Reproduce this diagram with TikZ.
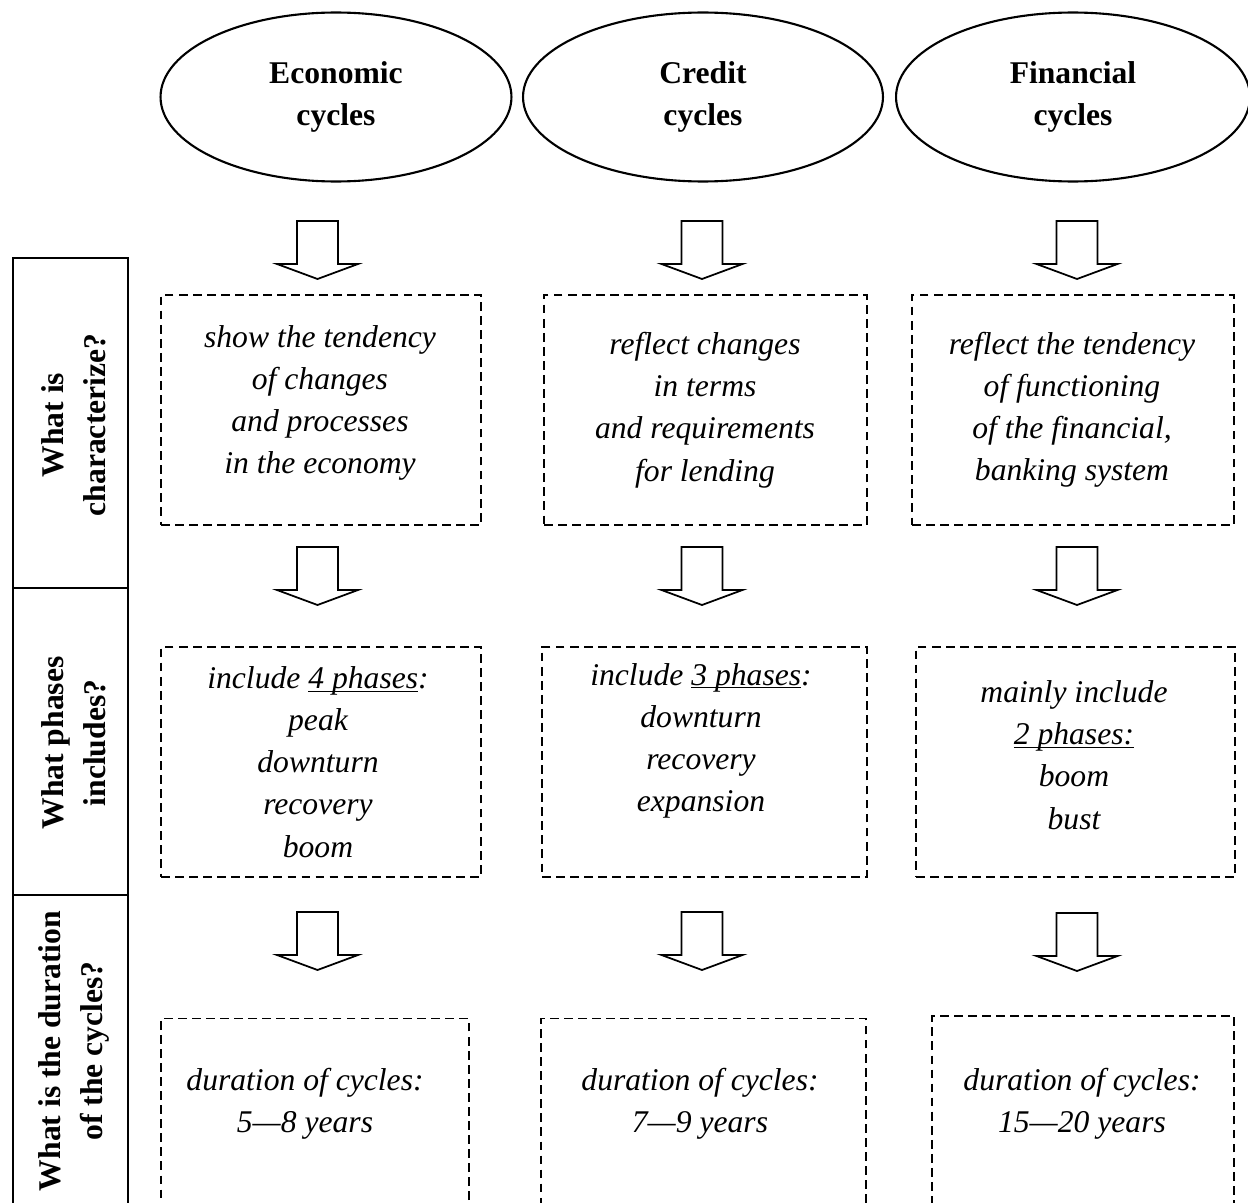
\documentclass[tikz,border=0pt]{standalone}
\usepackage{fontspec}
\setmainfont{Liberation Serif}
\usetikzlibrary{shapes.geometric}

\begin{document}
\begin{tikzpicture}[x=0.02cm,y=-0.02cm,
  cyc/.style={ellipse,draw,line width=1.2pt,minimum height=3.38cm,inner sep=0pt,font=\bfseries\fontsize{18}{24}\selectfont,align=center},
  dbox/.style={draw,dash pattern=on 5pt off 3pt,line width=1pt,minimum height=4.6cm,inner sep=0pt},
  txt/.style={font=\itshape\fontsize{18}{24}\selectfont,align=center},
  qtxt/.style={font=\bfseries\fontsize{18}{24}\selectfont,align=center,rotate=90},
  downarr/.pic={\draw[line width=1pt] (-20.5,0) -- (-20.5,43) -- (-40.5,43) -- (0,58) -- (40.5,43) -- (20.5,43) -- (20.5,0) -- cycle;}]
\useasboundingbox (0,0) rectangle (1248,1203);

% left column with the questions
\draw[line width=1pt] (13,1215) -- (13,258) -- (128,258) -- (128,1215);
\draw[line width=1pt] (13,588) -- (128,588);
\draw[line width=1pt] (13,895) -- (128,895);
\node[qtxt] (q1) at (74,425) {What is\\characterize?};
\node[qtxt] (q2) at (74,743) {What phases\\includes?};
\node[qtxt] (q3) at (74,1051) {What is the duration\\of the cycles?};

% kinds of cycles
\node[cyc,minimum width=7.02cm] (eco) at (336,97) {Economic\\cycles};
\node[cyc,minimum width=7.2cm] (cre) at (703,97) {Credit\\cycles};
\node[cyc,minimum width=7.08cm] (fin) at (1073,97) {Financial\\cycles};

% block arrows
\pic (a11) at (317.5,221) {downarr};
\pic (a12) at (702,221) {downarr};
\pic (a13) at (1077,221) {downarr};
\pic (a21) at (317.5,547) {downarr};
\pic (a22) at (702,547) {downarr};
\pic (a23) at (1077,547) {downarr};
\pic (a31) at (317.5,912) {downarr};
\pic (a32) at (702,912) {downarr};
\pic (a33) at (1077,913) {downarr};

% what is characterize
\node[dbox,minimum width=6.4cm] (b11) at (321,410) {};
\node[dbox,minimum width=6.46cm] (b12) at (705.5,410) {};
\node[dbox,minimum width=6.44cm] (b13) at (1073,410) {};
\node[txt] (t11) at (320,403) {show the tendency\\of changes\\and processes\\in the economy};
\node[txt] (t12) at (705,410) {reflect changes\\in terms\\and requirements\\for lending};
\node[txt] (t13) at (1072,410) {reflect the tendency\\of functioning\\of the financial,\\banking system};

% phases
\node[dbox,minimum width=6.4cm] (b21) at (321,762) {};
\node[dbox,minimum width=6.5cm] (b22) at (704.5,762) {};
\node[dbox,minimum width=6.38cm] (b23) at (1075.5,762) {};
\node[txt] (t21) at (318,762) {include \underline{\smash{4 phases}}:\\peak\\downturn\\recovery\\boom};
\node[txt] (t22) at (701,741) {include \underline{\smash{3 phases}}:\\downturn\\recovery\\expansion};
\node[txt] (t23) at (1074,755) {mainly include\\\underline{\smash{2 phases:}}\\boom\\bust};

% duration
\node[dbox,minimum width=6.16cm,minimum height=3.94cm] (b31) at (315,1117) {};
\node[dbox,minimum width=6.5cm,minimum height=3.94cm] (b32) at (703.5,1117) {};
\node[dbox,minimum width=6.04cm,minimum height=4.0cm] (b33) at (1083,1116) {};
\node[txt] (t31) at (305,1104) {duration of cycles:\\5\textemdash 8 years};
\node[txt] (t32) at (700,1104) {duration of cycles:\\7\textemdash 9 years};
\node[txt] (t33) at (1082,1104) {duration of cycles:\\15\textemdash 20 years};
\end{tikzpicture}
\end{document}
